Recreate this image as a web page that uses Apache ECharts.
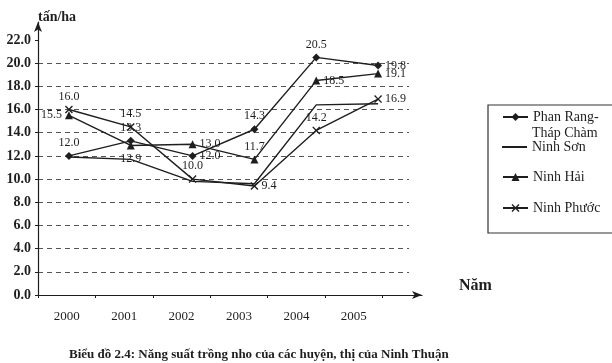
<!DOCTYPE html>
<html><head><meta charset="utf-8">
<script src="https://cdn.jsdelivr.net/npm/echarts@6/dist/echarts.min.js"></script>
<style>html,body{margin:0;padding:0;background:#fff}#c{width:612px;height:363px}</style>
</head><body><div id="c"></div>
<script>
// ---- data ----
const years = ['2000','2001','2002','2003','2004','2005'];
const phanRang = [12.0, 13.3, 12.0, 14.3, 20.5, 19.8];
const ninhSon  = [11.9, 11.7, 9.8, 9.6, 16.4, 16.5];
const ninhHai  = [15.5, 12.9, 13.0, 11.7, 18.5, 19.1];
const ninhPhuoc= [16.0, 14.5, 10.0, 9.4, 14.2, 16.9];
const yTicks = {min: 0, max: 22, interval: 2};

// ---- styles ----
const F = 'Liberation Serif, Times New Roman, serif';
const INK = '#1e1e1e';
const xPath = 'path://M0,1.2L1.2,0L5,3.8L8.8,0L10,1.2L6.2,5L10,8.8L8.8,10L5,6.2L1.2,10L0,8.8L3.8,5Z';
const labelPos = {
  pr: ['top','top','right','top','top','right'],
  ns: ['bottom','bottom','bottom','top','top','left'],
  nh: ['left','bottom','right','top','right','right'],
  np: ['top','top','top','right','top','right']
};
function items(vals, pos){ return vals.map((v,i)=>({value:v, label:{position:pos[i]}})); }
function mk(name, vals, pos, symbol, size){
  return {
    name, type:'line', data: items(vals,pos), xAxisIndex:0, yAxisIndex:0,
    symbol, symbolSize:size, showSymbol: symbol!=='none',
    lineStyle:{color:INK, width:1.4}, itemStyle:{color:INK},
    label:{show:true, fontFamily:F, fontSize:12, color:INK, distance:3,
      formatter: p => p.value.toFixed(1)},
    emphasis:{disabled:true}, animation:false
  };
}
const chart = echarts.init(document.getElementById('c'));
const legendBase = {orient:'vertical', left:502, itemWidth:25, itemHeight:10, itemGap:5, padding:0,
  textStyle:{fontFamily:F, fontSize:14, color:INK}, selectedMode:false};
chart.setOption({
  backgroundColor:'#fff',
  animation:false,
  title:[
    {text:'tấn/ha', left:33, top:5, textStyle:{fontFamily:F, fontSize:14, fontWeight:'bold', color:INK}},
    {text:'Năm', left:454, top:273, textStyle:{fontFamily:F, fontSize:16, fontWeight:'bold', color:INK}},
    {text:'Biểu đồ 2.4: Năng suất trồng nho của các huyện, thị của Ninh Thuận', left:64, top:343,
      textStyle:{fontFamily:F, fontSize:13, fontWeight:'bold', color:INK}}
  ],
  grid:[
    {left:38, top:40, width:371, height:255},
    {left:38, top:40, width:344.5, height:255},
    {left:38, top:22, width:384, height:273}
  ],
  xAxis:[
    {gridIndex:0, type:'category', data:years, boundaryGap:true,
      axisLine:{show:false}, axisTick:{show:false}, axisLabel:{show:false}, splitLine:{show:false}},
    {gridIndex:1, type:'category', data:years, boundaryGap:true,
      axisLine:{show:false}, axisTick:{show:true, length:3, lineStyle:{color:INK}},
      axisLabel:{fontFamily:F, fontSize:13, color:INK, margin:15}, splitLine:{show:false}},
    {gridIndex:2, type:'value', min:0, max:1, axisLabel:{show:false}, axisTick:{show:false}, splitLine:{show:false},
      axisLine:{show:true, symbol:['none','arrow'], symbolSize:[6,10], lineStyle:{color:INK, width:1.2}}}
  ],
  yAxis:[
    {gridIndex:0, type:'value', min:yTicks.min, max:yTicks.max, interval:yTicks.interval,
      axisLine:{show:false}, axisTick:{show:true, length:3, lineStyle:{color:INK}},
      axisLabel:{fontFamily:F, fontSize:14, fontWeight:'bold', color:INK, margin:7, formatter:v=>v.toFixed(1)},
      splitLine:{show:true, showMinLine:false, showMaxLine:false, lineStyle:{type:[5,4], color:'#555', width:1}}},
    {gridIndex:1, type:'value', min:0, max:22, show:false},
    {gridIndex:2, type:'value', min:0, max:1, axisLabel:{show:false}, axisTick:{show:false}, splitLine:{show:false},
      axisLine:{show:true, symbol:['none','arrow'], symbolSize:[6,10], lineStyle:{color:INK, width:1.2}}}
  ],
  legend:[
    Object.assign({}, legendBase, {top:110, data:['Phan Rang-Tháp Chàm'], formatter:()=> 'Phan Rang-'}),
    Object.assign({}, legendBase, {top:140, itemHeight:2, data:[{name:'Ninh Sơn', icon:'rect', itemStyle:{color:INK}}]}),
    Object.assign({}, legendBase, {top:170, data:['Ninh Hải']}),
    Object.assign({}, legendBase, {top:201, data:['Ninh Phước']})
  ],
  graphic:[
    {type:'rect', shape:{x:488, y:105, width:140, height:128}, style:{fill:'none', stroke:'#333', lineWidth:1.2}, silent:true},
    {type:'text', left:532, top:126, style:{text:'Tháp Chàm', font:'14px '+F, fill:INK}, silent:true}
  ],
  series:[
    mk('Phan Rang-Tháp Chàm', phanRang, labelPos.pr, 'diamond', 8),
    mk('Ninh Sơn', ninhSon, labelPos.ns, 'none', 0),
    mk('Ninh Hải', ninhHai, labelPos.nh, 'triangle', 8),
    mk('Ninh Phước', ninhPhuoc, labelPos.np, xPath, 8)
  ]
});
</script></body></html>
